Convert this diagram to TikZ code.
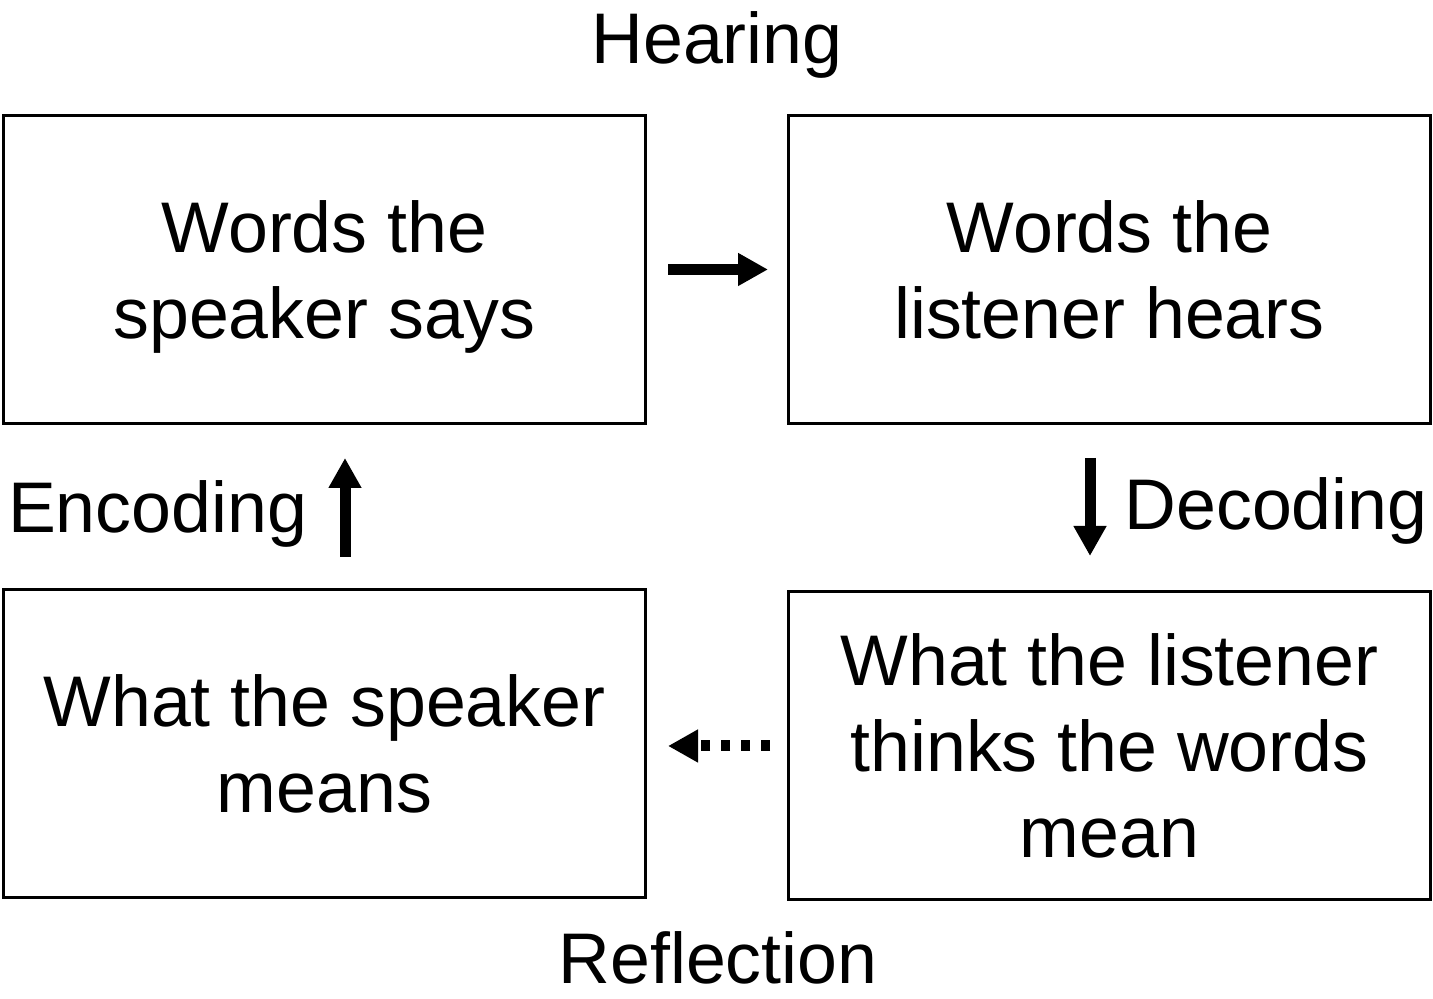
\documentclass[tikz,border=0pt]{standalone}
\usepackage{fontspec}
\setmainfont{Liberation Sans}
\usetikzlibrary{arrows.meta}

\begin{document}
\begin{tikzpicture}[
    stagebox/.style={draw, line width=0.06cm, minimum width=12.84cm, minimum height=6.16cm, inner sep=0pt, align=center, font=\fontsize{40.8}{49}\selectfont},
    steplabel/.style={anchor=base, inner sep=0pt, font=\fontsize{40.8}{49}\selectfont},
    flowarrow/.style={line width=0.22cm, -{Triangle[length=0.6cm,width=0.62cm]}},
    backarrow/.style={flowarrow, dash pattern=on 0.18cm off 0.22cm}
]
    \useasboundingbox (0,0) rectangle (28.66,19.98);
    % the four stages
    \node[stagebox] (says) at (6.49,14.59) {Words the\\\raisebox{0pt}[\height][0pt]{speaker says}};
    \node[stagebox] (hears) at (22.19,14.59) {Words the\\listener hears};
    \node[stagebox] (means) at (6.49,5.10) {What the speaker\\means};
    \node[stagebox] (thinks) at (22.19,5.06) {What the listener\\thinks the words\\mean};
    % arrows between stages
    \draw[flowarrow, shorten <=0.42cm, shorten >=0.38cm] (says.east) -- (says.east -| hears.west); % Hearing
    \draw[flowarrow, shorten <=0.66cm, shorten >=0.69cm] ([xshift=-0.39cm]hears.south) -- ([xshift=-0.39cm]thinks.north); % Decoding
    \draw[backarrow, shorten <=0.34cm, shorten >=0.42cm] (thinks.west) -- (thinks.west -| means.east); % Reflection
    \draw[flowarrow, shorten <=0.63cm, shorten >=0.66cm] ([xshift=0.41cm]means.north) -- ([xshift=0.41cm]says.south); % Encoding
    % labels
    \node[steplabel] (hearing) at (14.34,18.70) {Hearing};
    \node[steplabel] (decoding) at (25.52,9.38) {Decoding};
    \node[steplabel] (reflection) at (14.36,0.30) {Reflection};
    \node[steplabel] (encoding) at (3.15,9.32) {Encoding};
\end{tikzpicture}
\end{document}
